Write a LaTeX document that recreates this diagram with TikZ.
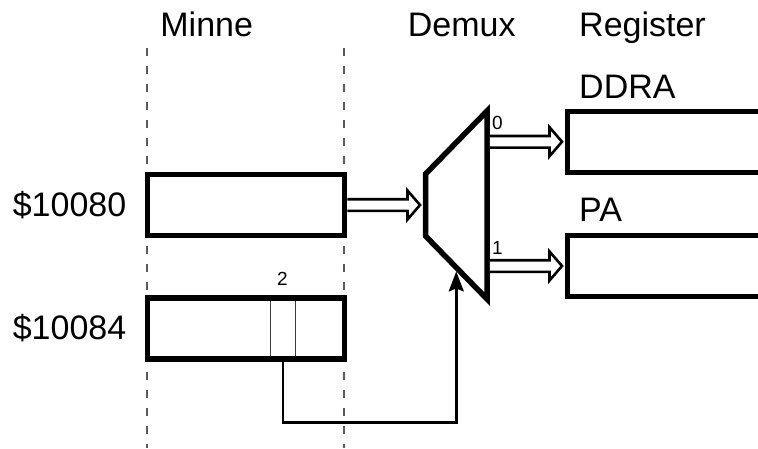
\documentclass[tikz,border=0pt]{standalone}
\usepackage{fontspec}
\setmainfont{Liberation Sans}
\usepackage{xcolor}
\definecolor{guidegray}{HTML}{5A5A5A}
\definecolor{cellgray}{HTML}{3C3C3C}
\usepackage{tikz}
\usetikzlibrary{arrows.meta,positioning,calc,shapes.geometric}

\begin{document}
\begin{tikzpicture}[
  x=1pt, y=-1pt,
  font=\fontsize{34}{40}\selectfont,
  word/.style={draw, line width=5.5pt, minimum width=197pt,
    minimum height=61pt, inner sep=0pt},
  reg/.style={word, minimum width=260pt},
  cell/.style={draw=cellgray, line width=1pt, minimum width=24.6pt,
    minimum height=61pt, inner sep=0pt},
  demux/.style={draw, line width=5.5pt, trapezium, shape border rotate=90,
    trapezium angle=44.5, trapezium stretches=true,
    minimum width=188pt, minimum height=61.5pt, inner sep=1pt},
  txt/.style={inner sep=0pt},
  small/.style={inner sep=0pt, font=\fontsize{19}{22}\selectfont},
  bus/.style={draw, fill=white, line width=2.6pt},
  ctrl/.style={line width=2.6pt, -{Stealth[length=20pt, width=15pt, inset=3pt]}},
  guide/.style={draw=guidegray, line width=1.3pt, dash pattern=on 8pt off 10pt}
]
  \clip (0,0) rectangle (758,448);
  \draw[guide] (147,48) -- (147,448);
  \draw[guide] (344,48) -- (344,448);

  \node[cell] (bit) at (283,328.25) {};
  \node[word] (m1) at (246,205) {};
  \node[word] (m2) at (246,328.25) {};
  \node[demux] (dmx) at (456.25,205) {};
  \node[reg] (r0) at (697.5,141.75) {};
  \node[reg] (r1) at (697.5,266) {};

  \node[txt, anchor=base] (tm) at (206.7,36.7) {Minne};
  \node[txt, anchor=base] (td) at (461.7,36.7) {Demux};
  \node[txt, anchor=base west] (tr) at (579,36.7) {Register};
  \node[txt, anchor=base west] (l0) at (579,98.3) {DDRA};
  \node[txt, anchor=base west] (l1) at (579,221.7) {PA};
  \node[txt, anchor=base east] (a1) at (126.5,216.7) {\$10080};
  \node[txt, anchor=base east] (a2) at (126.5,339.7) {\$10084};
  \node[small, anchor=base] (nb) at (282.3,285) {2};
  \node[small, anchor=base west] (n0) at (492,129.3) {0};
  \node[small, anchor=base west] (n1) at (492,254) {1};

  \coordinate (tin) at ($(dmx.top side)+(-2.75,0)$);
  \coordinate (t0) at ($(r0.west)+(-2.75,0)$);
  \coordinate (t1) at ($(r1.west)+(-2.75,0)$);
  \coordinate (s0) at (dmx.bottom side |- r0.west);
  \coordinate (s1) at (dmx.bottom side |- r1.west);
  \foreach \from/\to in {m1.east/tin, s0/t0, s1/t1}
    \draw[bus] ($(\from)+(0,-5.8)$) -- ($(\to)+(-12.5,-5.8)$) -- ($(\to)+(-12.5,-14.5)$)
      -- (\to) -- ($(\to)+(-12.5,14.5)$) -- ($(\to)+(-12.5,5.8)$) -- ($(\from)+(0,5.8)$);

  \draw[ctrl] (bit.south) -- ++(0,63) -| (dmx.left side);
\end{tikzpicture}
\end{document}
